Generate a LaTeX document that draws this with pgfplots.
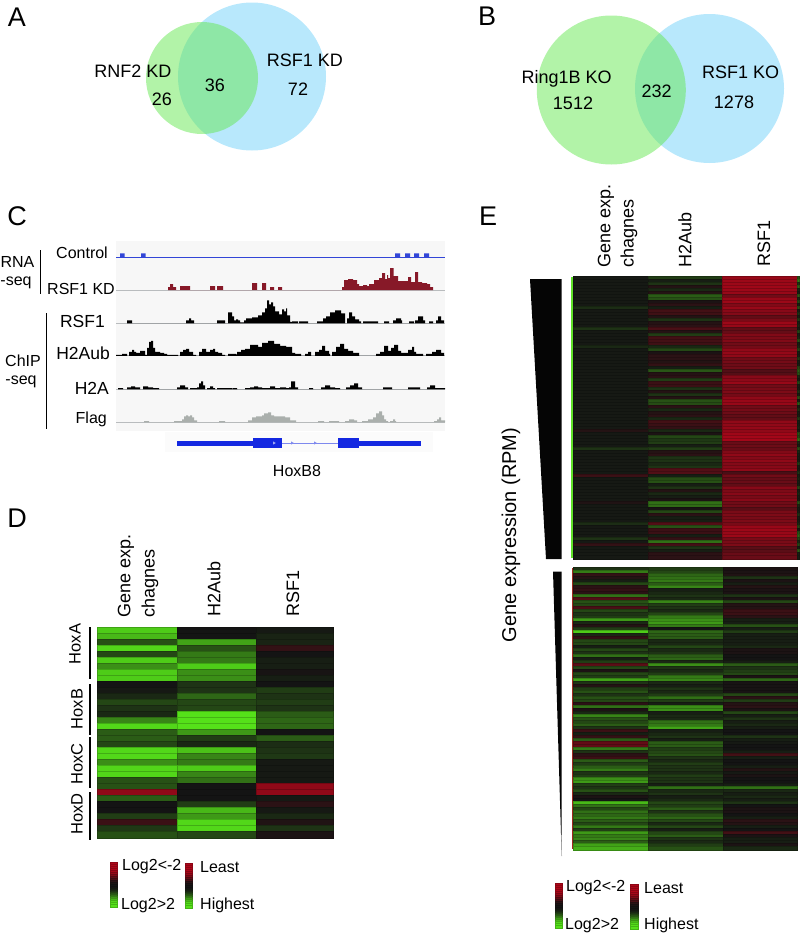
\documentclass[border=0pt]{standalone}
\usepackage{fontspec}
\setmainfont{Liberation Sans}
\usepackage{pgfplots}
\usepackage{pgfplotstable}
\pgfplotsset{compat=1.18}

\definecolor{vgreen}{RGB}{101,231,81}
\definecolor{vblue}{RGB}{184,232,252}
\definecolor{trkblue}{RGB}{50,70,215}
\definecolor{trkred}{RGB}{135,25,40}
\definecolor{trkgray}{RGB}{170,175,172}
\definecolor{basegray}{RGB}{185,188,190}
\definecolor{genblue}{RGB}{20,40,225}
\definecolor{wedge}{RGB}{5,5,5}

% heat map values: log2 scale, -2 red, 0 black, +2 green
\pgfplotstableread{
a b c
1.8 0 .05
1.6 0 .15
.6 1.4 .15
1.9 .6 -.4
.5 1 0
1.8 1 .1
1.2 1.8 .1
1.8 1.2 -.05
1.8 1.2 .1
0 .3 0
.05 .3 .4
.2 .8 .3
.5 .5 .4
.3 .5 .3
.2 2 .7
1.1 2 .8
1.9 2 .8
.7 1.3 0
.7 .4 .7
.5 .2 .25
1.9 1.7 .3
1.9 1.1 .35
1.2 1 .05
1.9 1.8 .05
1.9 1.1 .05
.6 .9 .05
.6 0 -1.6
-1.6 0 -1.6
.7 0 .05
0 .4 -.3
0 1.6 .05
.4 1.3 .2
-.5 1.9 -.15
.35 1.9 .3
.6 .5 -.1
}\heatD

\pgfplotstableread{
a b c d
.05 .4 -1.7 .6
.05 .1 -1.75 1
.05 .3 -1.75 .3
.05 -.2 -1.8 .8
.05 .2 -1.75 .2
.05 -.2 -1.7 .1
.05 .7 -1.2 .7
.05 .6 -1.7 .2
.05 -.1 -1.75 .5
.05 -.3 -1.4 .1
.25 .1 -1.7 .6
.05 -.6 -1.5 .1
.05 -.55 -1.45 .3
.05 -.2 -1 .1
.05 .3 -1.3 .4
.05 -.2 -1.75 .1
.05 -.3 -1.7 .2
.3 -.7 -1 .1
.05 -.2 -1.05 .5
.05 .4 -1.4 .1
.05 -.6 -1.35 .2
.05 -.6 -1.4 .6
.05 -.55 -1.2 .1
.2 .2 -1.25 .2
.05 .5 -1.6 .5
.05 -.1 -1.65 .1
.05 -.3 -1.6 .1
.05 -.3 -1.2 .4
.05 -.2 -1.25 .1
.05 -.4 -1.15 .1
.05 .1 -1.2 .5
.05 .65 -.8 .7
.05 -.2 -.85 .6
.05 -.3 -1.5 .2
.05 .4 -1.55 .1
.05 -.5 -1.7 .5
.05 -.5 -1.2 .1
.05 .3 -1.3 .1
.05 -.2 -1.35 .3
.05 .3 -1.25 .1
.05 -.2 -1.6 .6
.05 .6 -1.7 .1
.05 .55 -1.7 .7
.05 -.3 -1.2 .1
.05 .2 -1.25 .3
.05 -.2 -1.15 .1
.05 -.3 -1 .1
.05 .2 -1 .4
.05 -.6 -1.6 .1
.05 -.5 -1.6 .1
.05 -.4 -1.65 .2
-.2 .2 -1.6 .1
.05 -.1 -1.8 .6
.05 .5 -1.85 .5
.05 .35 -1.85 .9
.05 .4 -1.1 .2
.05 .1 -1.15 .1
.3 .4 -1.1 .6
.05 -.2 -1.4 .2
.05 -.3 -1.6 .1
.05 .3 -1.45 .1
.05 .3 -1.6 .1
.05 .2 -1.45 .4
.05 .3 -1.5 .1
.05 -.8 -1.6 .1
.05 -.8 -.7 .3
-.5 .1 -1.2 .1
.05 .55 -1.05 .2
.05 .6 -1.1 .1
.05 .1 -1 .1
.05 .3 -1.5 .5
.05 -.2 -1.35 .1
.05 .2 -1.5 .2
.05 .1 -1.3 .1
.05 -.1 -1.5 .1
-.15 .9 -1.2 .6
.05 .85 -1.2 .2
.05 -.05 -.9 .1
.05 .5 -1.3 .1
.05 -.3 -1.35 .3
.05 .1 -1.3 .1
.05 .1 -1.35 .1
.25 -.8 -1.3 .2
.05 .6 -1.7 .5
.05 -.5 -1.75 .1
.05 -.5 -1.7 .6
.05 .1 -1.75 .8
.3 -.4 -1.3 .5
.05 .9 -1.3 .2
-.4 -.6 -1.35 .5
.05 .3 -.9 .1
.05 .1 -.9 .7
.05 -.3 -1.1 .1
.05 -.3 -1.1 .1
}\heatEtop

\pgfplotstableread{
a b c
.3 .4 -.1
1 .5 -.1
-.4 .8 -.15
-.2 .9 .3
.1 1 -.1
.5 .7 .1
-.3 1.1 -.2
-.4 .1 -.1
-.3 .2 -.1
.9 .3 .3
-.8 .2 -.1
.6 1.1 .5
.5 .4 -.2
-.7 .3 -.2
.5 .2 -.5
.3 .5 -.5
.4 1 -.3
1.3 1.2 .1
.2 1.3 .1
-.2 1 .6
.4 0 .1
1.8 .8 .4
.2 .7 .1
-.4 .7 .1
.5 .2 .1
.5 .2 .1
.1 .5 .2
.5 .2 -.1
.3 .3 -.1
.9 .7 0
.1 .8 0
.4 .2 .1
-.9 1.2 .7
.5 .3 .3
-.1 .2 .4
.5 .4 .5
.4 1 -.1
1.4 1.1 .8
.3 .2 -.05
-.2 .1 -.05
.4 .3 -.05
.6 .2 -.05
.3 .4 .5
.6 .9 -.3
.5 .4 .4
-.3 .1 -.2
.9 1.2 -.3
-.1 1.2 -.1
.2 .1 .5
1.1 .2 .1
.6 .2 .3
.5 .9 .1
.7 1 .2
.3 1.4 .1
-.5 .1 0
.1 .2 0
-.4 .3 .3
.7 .1 .1
-1 .7 .05
-1 .7 0
1 .4 0
.3 .5 .1
-.3 .6 -.6
-.5 .3 .1
.7 .2 0
.4 .4 0
.7 .3 .1
1 .3 -.2
.3 .2 .05
.4 .4 -.1
1.2 .3 0
1.3 .3 0
.4 .1 .1
.3 .9 .9
.6 .2 .2
.2 .3 .1
-.1 .1 .2
0 .2 .1
1.6 .5 .3
.9 .4 0
.5 .7 -.1
.9 .3 -.1
.8 .6 0
1 .8 .1
.7 .5 -.3
.5 .2 -.2
1 .5 .1
.4 .1 0
1.3 .5 -.6
1 .7 -.1
1.1 .3 .1
.7 .2 .1
1.4 .4 -.1
1.5 .6 .2
}\heatEbot

\pgfplotstableread{
r v
0 -2
1 -2
2 -2
3 -2
4 -1.9
5 -1.7
6 -1.4
7 -1
8 -.7
9 -.3
10 -.1
11 0
12 0
13 .1
14 .3
15 .6
16 .9
17 1.3
18 1.6
19 1.9
20 2
21 2
}\keybar

\pgfplotsset{
  colormap={rg}{rgb255=(175,6,25) rgb255=(20,20,20) rgb255=(85,225,25)},
  heat/.style n args={2}{scatter, only marks, mark=square*, mark size=1pt,
    scatter src=explicit, mark options={xscale=#1, yscale=#2, line width=0pt}},
}
\tikzset{
  T/.style={inner sep=0pt, font=\fontsize{18}{20}\selectfont},
  S/.style={inner sep=0pt, font=\fontsize{16}{18}\selectfont},
  M/.style={inner sep=0pt, font=\fontsize{17.5}{20}\selectfont},
  L/.style={inner sep=0pt, font=\fontsize{27}{30}\selectfont},
  H/.style={inner sep=0pt, rotate=90, font=\fontsize{16.5}{18}\selectfont},
}

% all text goes on after the plots, so that no circle covers it
\newcommand{\alltext}{%
\node[L] at (axis cs:17,17) {A};
\node[L] at (axis cs:487,16) {B};
\node[L] at (axis cs:17,216) {C};
\node[L] at (axis cs:17,518) {D};
\node[L] at (axis cs:488,216) {E};
% venn labels
\node[T] at (axis cs:133,71) {RNF2 KD};
\node[T] at (axis cs:162,99) {26};
\node[T] at (axis cs:215,85) {36};
\node[T] at (axis cs:305,60) {RSF1 KD};
\node[T] at (axis cs:298,89) {72};
\node[T] at (axis cs:566.7,79) {Ring1B KO};
\node[T] at (axis cs:573,103) {1512};
\node[T] at (axis cs:656.7,91) {232};
\node[T] at (axis cs:740.7,72) {RSF1 KO};
\node[T] at (axis cs:734,102) {1278};
% panel C
\node[S] at (axis cs:17.5,262) {RNA};
\node[S] at (axis cs:16,283) {-seq};
\node[S] at (axis cs:23,361) {ChIP};
\node[S] at (axis cs:21,382) {-seq};
\node[S, anchor=east] at (axis cs:108,253) {Control};
\node[S, anchor=east] at (axis cs:115,289) {RSF1 KD};
\node[M, anchor=east] at (axis cs:105,321) {RSF1};
\node[M, anchor=east] at (axis cs:110,353) {H2Aub};
\node[M, anchor=east] at (axis cs:109,388) {H2A};
\node[S, anchor=east] at (axis cs:107,419) {Flag};
\node[S] at (axis cs:297,471) {HoxB8};
% panel D
\node[T, rotate=90, anchor=west] at (axis cs:126,618) {Gene exp.};
\node[T, rotate=90, anchor=west] at (axis cs:150,618) {chagnes};
\node[T, rotate=90, anchor=west] at (axis cs:214,617) {H2Aub};
\node[T, rotate=90, anchor=west] at (axis cs:293,617) {RSF1};
\node[H] at (axis cs:75,644) {HoxA};
\node[H] at (axis cs:77,709) {HoxB};
\node[H] at (axis cs:77,764) {HoxC};
\node[H] at (axis cs:77,814) {HoxD};
\node[S, anchor=west] at (axis cs:122,867) {Log2<-2};
\node[S, anchor=west] at (axis cs:121,906) {Log2>2};
\node[S, anchor=west] at (axis cs:200,867) {Least};
\node[S, anchor=west] at (axis cs:200,905) {Highest};
% panel E
\node[T, rotate=90, anchor=west] at (axis cs:606,268) {Gene exp.};
\node[T, rotate=90, anchor=west] at (axis cs:629,268) {chagnes};
\node[T, rotate=90, anchor=west] at (axis cs:685,268) {H2Aub};
\node[T, rotate=90, anchor=west] at (axis cs:764,267) {RSF1};
\node[rotate=90, inner sep=0pt, font=\fontsize{20}{22}\selectfont] at (axis cs:511,535) {Gene expression (RPM)};
\node[S, anchor=west] at (axis cs:566,888) {Log2<-2};
\node[S, anchor=west] at (axis cs:565,926) {Log2>2};
\node[S, anchor=west] at (axis cs:644,888) {Least};
\node[S, anchor=west] at (axis cs:644,925) {Highest};
}

\begin{document}
\begin{tikzpicture}
\useasboundingbox (0,0) rectangle (802pt,937pt);
\begin{axis}[
  scale only axis, width=802pt, height=937pt,
  xmin=0, xmax=802, ymin=0, ymax=937, y dir=reverse,
  axis lines=none, clip=false,
  colormap name=rg, point meta min=-2, point meta max=2,
  after end axis/.code={\alltext},
]
% venn A
\addplot[only marks, mark=*, mark size=74pt, mark options={draw opacity=0, fill=vblue}] coordinates {(252,76.5)};
\addplot[only marks, mark=*, mark size=56pt, mark options={draw opacity=0, fill=vgreen, fill opacity=0.5}] coordinates {(202,78)};
% venn B
\addplot[only marks, mark=*, mark size=74.5pt, mark options={draw opacity=0, fill=vblue}] coordinates {(709.5,88.5)};
\addplot[only marks, mark=*, mark size=74.5pt, mark options={draw opacity=0, fill=vgreen, fill opacity=0.5}] coordinates {(611.3,90)};

% panel C backgrounds
\addplot[fill=black!3, draw=none] coordinates {(116,241) (445,241) (445,431) (116,431)};
\addplot[fill=black!1.5, draw=none] coordinates {(165,432) (433,432) (433,452) (165,452)};

% baselines
\addplot[trkblue, line width=0.8pt] coordinates {(116,257.3) (445,257.3)};
\addplot[basegray, line width=0.7pt] coordinates {(116,290) (445,290)};
\addplot[basegray, line width=0.7pt] coordinates {(116,323.3) (445,323.3)};
\addplot[basegray, line width=0.7pt] coordinates {(116,355.8) (445,355.8)};
\addplot[basegray, line width=0.7pt] coordinates {(116,389.3) (445,389.3)};
\addplot[basegray, line width=0.7pt] coordinates {(116,422.3) (445,422.3)};

% tracks (x, height in px)
\addplot[const plot, fill=trkblue, draw=none] table[row sep=\\, x=x, y expr=257.3-\thisrow{h}]{
x h\\ 120 0\\ 120 4\\ 124.5 0\\ 141 4\\ 145.5 0\\ 395 4\\ 400 0\\ 405 4\\ 410 0\\ 414 4\\ 419 0\\ 424 4\\ 429 0\\ };
\addplot[const plot, fill=trkred, draw=none] table[row sep=\\, x=x, y expr=290-\thisrow{h}]{
x h\\ 168 0\\ 168 3\\ 170 6\\ 173 3\\ 176 0\\ 180 4\\ 190 0\\ 210 4\\ 215 0\\ 217 4\\ 223 0\\ 252 7\\ 257 0\\ 262 7\\ 266 0\\ 270 3\\ 274 0\\ 278 3\\ 282 0\\
342 3\\ 344 10\\ 348 11\\ 353 10\\ 357 6\\ 359 4\\ 363 5\\ 367 4\\ 369 6\\ 374 10\\ 379 12\\ 382 17\\ 385 11\\ 387 15\\ 388 12\\ 390 22\\ 393.5 14\\ 398 9\\ 408 13\\ 411 8\\ 415 18\\ 418 8\\ 422 7\\ 427 6\\ 430 3\\ 433 0\\ };
\addplot[const plot, fill=black, draw=none] table[row sep=\\, x=x, y expr=323.3-\thisrow{h}]{
x h\\ 127 0\\ 127 3\\ 132 0\\ 186 3\\ 189 5\\ 191 3\\ 194 0\\ 217 3\\ 225 0\\ 228 11\\ 232 7\\ 234 3\\ 236 4\\ 238 3\\ 240 1\\ 244 3\\ 246 5\\ 252 6\\ 258 8\\ 262 11\\ 265 15\\ 267 23\\ 269 19\\ 271 21\\ 273 17\\ 275 12\\ 279 9\\ 282 14\\ 284 12\\ 286 15\\ 287 8\\ 290 1.5\\ 292 2\\ 298 0\\ 299 2\\ 308 0\\ 317 2\\ 323 5\\ 326 7\\ 330 11\\ 335 13\\ 341 10\\ 345 0\\ 347 5\\ 349 11\\ 352 7\\ 355 4\\ 359 2\\ 361 0\\ 363 2\\ 378 0\\ 384 2\\ 389 0\\ 393 3\\ 396 5\\ 401 3\\ 402 0\\ 409 2\\ 414 0\\ 415 3\\ 418 7\\ 423 3\\ 425 0\\ 429 2\\ 433 0\\ 436 3\\ 438 7\\ 441 3\\ 444 0\\ };
\addplot[const plot, fill=black, draw=none] table[row sep=\\, x=x, y expr=355.8-\thisrow{h}]{
x h\\ 116 0\\ 116 1\\ 122 2\\ 127 0\\ 129 4\\ 132 6\\ 134 4\\ 136 3\\ 140 5\\ 145 1\\ 147 8\\ 149 14\\ 151 15\\ 153 8\\ 155 4\\ 160 3\\ 164 2\\ 167 1\\ 178 0\\ 180 4\\ 183 6\\ 186 7\\ 189 4\\ 193 1\\ 196 0\\ 199 4\\ 202 7\\ 206 4\\ 210 6\\ 213 7\\ 215 4\\ 218 3\\ 222 1\\ 225 0\\ 228 2\\ 236 1.5\\ 237 4\\ 241 6\\ 245 7\\ 250 11\\ 258 9\\ 262 13\\ 268 15\\ 274 12\\ 280 10\\ 286 9\\ 292 3\\ 295 2\\ 301 0\\ 305 2\\ 308 4\\ 311 0\\ 315 4\\ 319 6\\ 322 10\\ 325 5\\ 329 2\\ 330 0\\ 332 4\\ 336 9\\ 340 12\\ 344 7\\ 348 5\\ 353 3\\ 359 0\\ 376 2\\ 380 4\\ 384 10\\ 388 5\\ 391 8\\ 394 11\\ 398 5\\ 401 3\\ 408 6\\ 412 9\\ 414 4\\ 416 2\\ 423 0\\ 426 2\\ 432 4\\ 436 6\\ 441 3\\ 444 0\\ };
\addplot[const plot, fill=black, draw=none] table[row sep=\\, x=x, y expr=389.3-\thisrow{h}]{
x h\\ 118 0\\ 118 1.2\\ 123 0\\ 127 2\\ 131 3\\ 135 2\\ 140 0\\ 143 3\\ 148 2\\ 153 1.2\\ 159 0\\ 177 2\\ 180 4\\ 185 2\\ 188 0\\ 190 1.2\\ 197 2\\ 199 6\\ 201 8\\ 203 4\\ 205 0\\ 207 1.2\\ 210 3\\ 213 1.2\\ 215 0\\ 217 1.2\\ 232 0\\ 232.5 1.2\\ 237 0\\ 245 1.2\\ 250 2\\ 254 3\\ 258 2\\ 262 1.2\\ 270 3\\ 275 1.2\\ 280 2\\ 286 1.2\\ 289 2\\ 291 8\\ 295 2\\ 298 0\\ 309 1.2\\ 313 0\\ 321 2\\ 325 4\\ 330 2\\ 335 1.2\\ 340 0\\ 346 2\\ 350 4\\ 354 6\\ 358 2\\ 362 0\\ 383 2\\ 392 0\\ 408 2\\ 420 0\\ 427 2\\ 430 4\\ 435 1.2\\ 445 0\\ };
\addplot[const plot, fill=trkgray, draw=none] table[row sep=\\, x=x, y expr=422.3-\thisrow{h}]{
x h\\ 144 0\\ 144 1.2\\ 149 0\\ 174 1.2\\ 182 3\\ 184 6\\ 186 7\\ 188 6\\ 190 7\\ 192 5\\ 194 2\\ 197 0\\ 219 1.2\\ 225 0\\ 248 2\\ 252 5\\ 256 6\\ 262 7\\ 264 9\\ 268 10\\ 271 7\\ 274 6\\ 285 5\\ 290 2\\ 296 0\\ 318 1.2\\ 324 0\\ 329 1.2\\ 339 0\\ 345 1.2\\ 349 3\\ 354 2\\ 357 0\\ 362 1.2\\ 368 3\\ 373 5\\ 376 9\\ 379 11\\ 382 7\\ 384 3\\ 386 1.2\\ 388 0\\ 390 1.2\\ 393 3\\ 395 1.2\\ 396 0\\ 434 1.2\\ 437 3\\ 439 5\\ 441 2\\ 445 0\\ };

% gene model
\addplot[genblue!55!white, line width=0.9pt] coordinates {(282,443) (338,443)};
\addplot[genblue, line width=5pt] coordinates {(177,443) (253,443)};
\addplot[genblue, line width=10pt] coordinates {(253,443) (282,443)};
\addplot[genblue, line width=10pt] coordinates {(338,443) (359,443)};
\addplot[genblue, line width=5pt] coordinates {(359,443) (421,443)};
\addplot[only marks, mark=triangle*, mark size=1.8pt, mark options={rotate=-90, draw opacity=0, fill=genblue!55!white}] coordinates {(292,443) (315,443)};
\addplot[only marks, mark=triangle*, mark size=1.8pt, mark options={rotate=-90, draw opacity=0, fill=genblue!40!white}] coordinates {(274,443)};

% heat map D
\addplot[heat={40}{3.1}] table[x expr=137, y expr=631+6*\coordindex, meta=a]{\heatD};
\addplot[heat={39.5}{3.1}] table[x expr=216.5, y expr=631+6*\coordindex, meta=b]{\heatD};
\addplot[heat={38.5}{3.1}] table[x expr=294.5, y expr=631+6*\coordindex, meta=c]{\heatD};
\addplot[color=black!25!cyan!30!white, line width=0.8pt] coordinates {(97,627.5) (333,627.5)};

% heat map E, upper block
\addplot[heat={37.5}{1.6}] table[x expr=610.5, y expr=278.5+3*\coordindex, meta=a]{\heatEtop};
\addplot[heat={37}{1.6}] table[x expr=685, y expr=278.5+3*\coordindex, meta=b]{\heatEtop};
\addplot[heat={37.5}{1.6}] table[x expr=759.5, y expr=278.5+3*\coordindex, meta=c]{\heatEtop};
\addplot[heat={1.3}{1.6}] table[x expr=798.3, y expr=278.5+3*\coordindex, meta=d]{\heatEtop};
\addplot[color={rgb,255:red,95;green,225;blue,40}, line width=2.4pt] coordinates {(572.2,277) (572.2,558)};

% heat map E, lower block
\addplot[heat={37.5}{1.6}] table[x expr=610.5, y expr=569.5+3*\coordindex, meta=a]{\heatEbot};
\addplot[heat={37.5}{1.6}] table[x expr=685.5, y expr=569.5+3*\coordindex, meta=b]{\heatEbot};
\addplot[heat={37}{1.6}] table[x expr=760, y expr=569.5+3*\coordindex, meta=c]{\heatEbot};
\addplot[color={rgb,255:red,160;green,40;blue,30}, line width=1.2pt] coordinates {(572.8,568) (572.8,849)};

% wedges
\addplot[fill=wedge, draw=none] coordinates {(530,279) (561.5,279) (561.5,559) (546,559)};
\addplot[fill=wedge, draw=none] coordinates {(553,571.5) (561.7,571.5) (561.5,850)};
\addplot[black!35, line width=0.6pt] coordinates {(561.5,835) (561.7,856)};

% colour keys
\addplot[heat={3.8}{1.1}] table[x expr=113.8, y expr=864+2*\coordindex, meta=v]{\keybar};
\addplot[heat={3.8}{1.1}] table[x expr=189, y expr=865+2*\coordindex, meta=v]{\keybar};
\addplot[heat={3.8}{1.1}] table[x expr=559, y expr=885+2*\coordindex, meta=v]{\keybar};
\addplot[heat={3.6}{1.1}] table[x expr=634.5, y expr=886+2*\coordindex, meta=v]{\keybar};

% brackets
\addplot[black, line width=1.5pt] coordinates {(40.5,250) (40.5,294)};
\addplot[black, line width=1.5pt] coordinates {(46.5,313) (46.5,429)};
\addplot[black, line width=1.7pt] coordinates {(90,627) (90,679)};
\addplot[black, line width=1.7pt] coordinates {(90,684) (90,735)};
\addplot[black, line width=1.7pt] coordinates {(90,737) (90,788)};
\addplot[black, line width=1.7pt] coordinates {(90,792) (90,840)};
\end{axis}
\end{tikzpicture}
\end{document}
